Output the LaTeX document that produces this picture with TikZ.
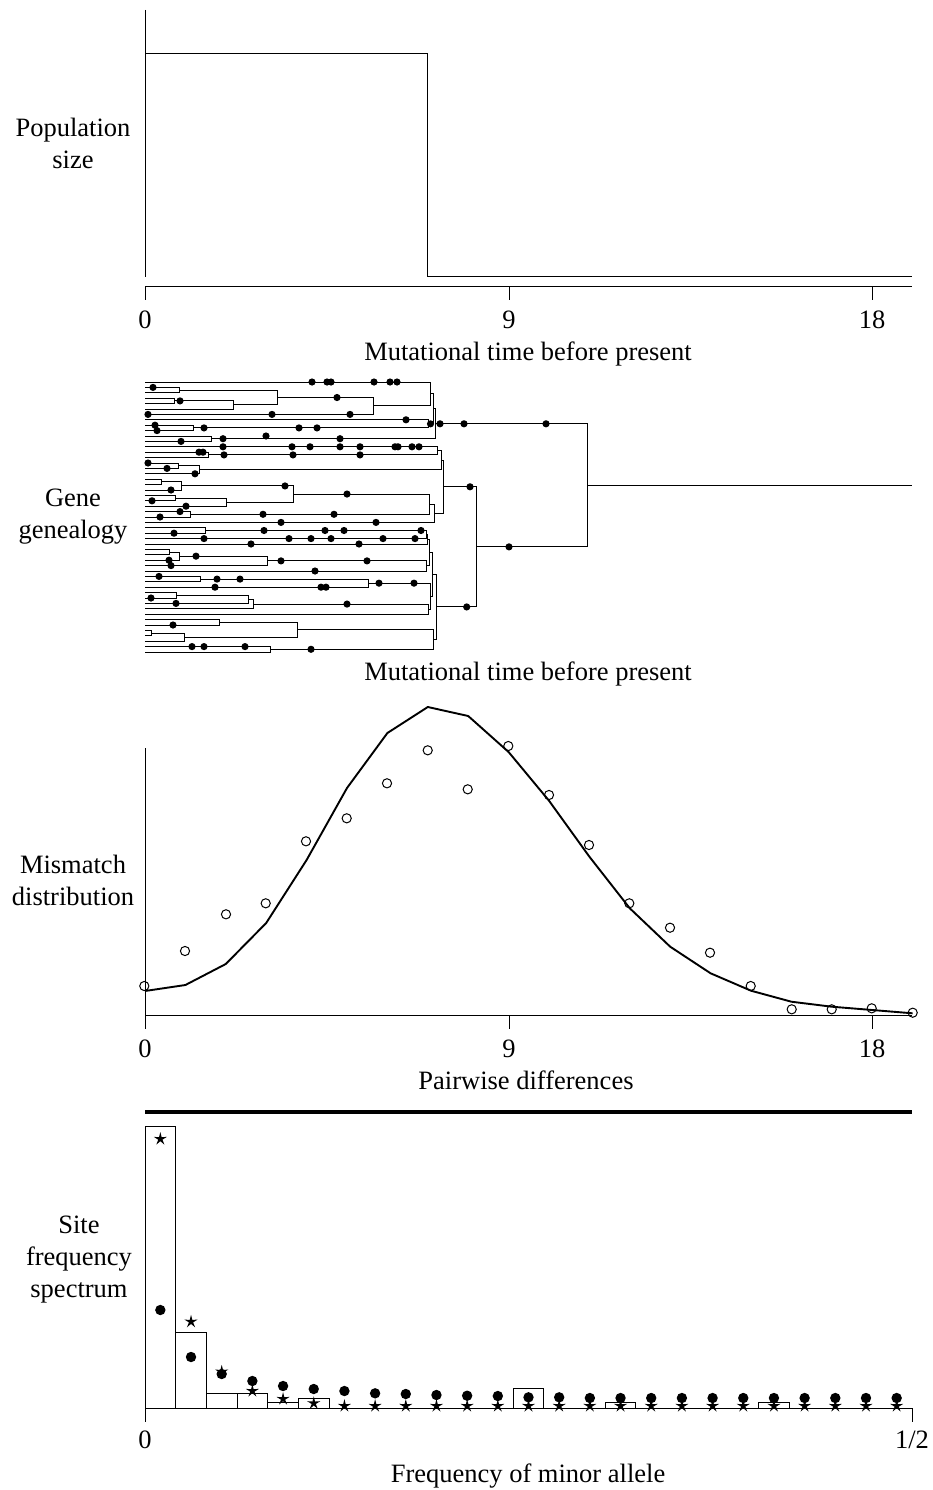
\documentclass[tikz,border=0pt]{standalone}
\usepackage{fontspec}
\setmainfont{Liberation Serif}
\usetikzlibrary{calc}
\newcommand\tjoin[4]{%
  \draw[tree] (#2) -- (#2 -| #4,0) -- (#3 -| #4,0) -- (#3);
  \coordinate (#1) at ($(#2 -| #4,0)!0.5!(#3 -| #4,0)$);
}
\newcommand\mut[2]{\fill (#1 -| #2,0) circle (3.6);}
\newcommand\sstar[2]{\fill[shift={(#1,#2)}] (-90:6.9) \foreach \a in {1,...,9}{ -- ({-90+36*\a}:{ifthenelse(isodd(\a),2.2,6.9)}) } -- cycle;}
\begin{document}
\begin{tikzpicture}[x=1pt,y=-1pt,
  ln/.style={line width=1pt},
  tree/.style={line width=1pt},
  lbl/.style={font=\fontsize{26.5}{32}\selectfont, inner sep=0pt, anchor=base},
  curve/.style={line width=1.9pt, line join=round},
  opendot/.style={line width=1pt}]
\useasboundingbox (0,0) rectangle (932,1490);

% ---------------- Panel 1: population size
\draw[ln] (145,10) -- (145,277);
\draw[ln] (145,54) -- (427,54) -- (427,276) -- (912,276);
\draw[ln] (145,286) -- (912,286);
\foreach \x in {145,509,872} {\draw[ln] (\x,286) -- (\x,300);}
\node[lbl] (pop1) at (73,137) {Population};
\node[lbl] (pop2) at (73,168.5) {size};
\node[lbl] (x10) at (145,328) {0};
\node[lbl] (x19) at (509,328) {9};
\node[lbl] (x118) at (872,328) {18};
\node[lbl] (xl1) at (528,360) {Mutational time before present};

% ---------------- Panel 2: gene genealogy
\foreach \i in {0,...,50} {\coordinate (L\i) at (145,{382+5.4*\i});}
% clade A
\tjoin{n12}{L1}{L2}{179}
\tjoin{n34}{L3}{L4}{174}
\tjoin{n345}{n34}{L5}{233}
\tjoin{nA1}{n12}{n345}{277}
\tjoin{nA2}{nA1}{L6}{373}
\tjoin{nA3}{L0}{nA2}{430}
\tjoin{n89}{L8}{L9}{193}
\tjoin{nA4}{L7}{n89}{428}
\tjoin{nA5}{nA3}{nA4}{433}
\tjoin{n1011}{L10}{L11}{211}
\tjoin{nA}{nA5}{n1011}{435.7}
% clade B1
\tjoin{c1314}{L13}{L14}{208}
\tjoin{b1}{L12}{c1314}{437}
\tjoin{c1516}{L15}{L16}{178}
\tjoin{b2}{c1516}{L17}{199}
\tjoin{b3}{b1}{b2}{441}
\tjoin{c1819}{L18}{L19}{161}
\tjoin{b4}{c1819}{L20}{181}
\tjoin{c2122}{L21}{L22}{175}
\tjoin{b5}{c2122}{L23}{226}
\tjoin{b6}{b4}{b5}{293}
\tjoin{c2425}{L24}{L25}{190}
\tjoin{b7}{b6}{c2425}{429}
\tjoin{b8}{b7}{L26}{434}
\tjoin{nB1}{b3}{b8}{443.3}
% clade B2
\tjoin{c2728}{L27}{L28}{205}
\tjoin{d1}{c2728}{L29}{426}
\tjoin{d1b}{d1}{L30}{427}
\tjoin{c3132}{L31}{L32}{169}
\tjoin{d2}{c3132}{L33}{179}
\tjoin{d3}{d2}{L34}{267}
\tjoin{d4}{d3}{L35}{426}
\tjoin{dA}{d1b}{d4}{429}
\tjoin{c3637}{L36}{L37}{200}
\tjoin{d5}{c3637}{L38}{368}
\tjoin{c3940}{L39}{L40}{176}
\tjoin{d6}{c3940}{L41}{248}
\tjoin{d7}{d6}{L42}{253}
\tjoin{d8}{d7}{L43}{428}
\tjoin{dB}{d5}{d8}{430}
\tjoin{nB2a}{dA}{dB}{432}
\tjoin{c4445}{L44}{L45}{219}
\tjoin{c4647}{L46}{L47}{151}
\tjoin{e1}{c4647}{L48}{184}
\tjoin{e2}{c4445}{e1}{297}
\tjoin{e3}{L49}{L50}{270}
\tjoin{nB2b}{e2}{e3}{433.3}
\tjoin{nB2}{nB2a}{nB2b}{436}
\tjoin{nB}{nB1}{nB2}{476.7}
\tjoin{root}{nA}{nB}{587}
\coordinate (rootend) at (root -| 912,0);
\draw[tree] (root) -- (rootend);
% mutations
\foreach \x in {312,327,331,374,390,397} {\mut{L0}{\x}}
\mut{L1}{153}
\mut{n34}{180}
\foreach \x in {148,272,350} {\mut{L6}{\x}}
\mut{nA1}{337}
\mut{L7}{406}
\mut{L8}{155}
\mut{L9}{157}
\foreach \x in {204,299,317} {\mut{n89}{\x}}
\mut{L10}{266}
\mut{L11}{181}
\foreach \x in {223,340} {\mut{n1011}{\x}}
\mut{nA4}{430.5}
\foreach \x in {440,464,546} {\mut{nA}{\x}}
\foreach \x in {223,292,310,340,360,395,398,412,419} {\mut{L12}{\x}}
\foreach \x in {199,203} {\mut{L13}{\x}}
\foreach \x in {224,293,360} {\mut{c1314}{\x}}
\mut{L15}{148}
\mut{L16}{167}
\mut{L17}{195}
\mut{L20}{171}
\mut{b4}{285}
\mut{b6}{347}
\mut{L22}{152}
\mut{L23}{186}
\mut{L24}{180}
\mut{L25}{160}
\foreach \x in {263,334} {\mut{c2425}{\x}}
\foreach \x in {281,376} {\mut{L26}{\x}}
\mut{nB1}{470}
\mut{L28}{174}
\foreach \x in {264,325,344,421} {\mut{c2728}{\x}}
\foreach \x in {204,289,311,331,383,415} {\mut{L29}{\x}}
\foreach \x in {251,359} {\mut{L30}{\x}}
\mut{d2}{196}
\mut{L33}{169}
\mut{L34}{171}
\foreach \x in {281,367} {\mut{d3}{\x}}
\mut{L35}{315}
\mut{L36}{159}
\foreach \x in {217,240} {\mut{c3637}{\x}}
\foreach \x in {215,321,326} {\mut{L38}{\x}}
\foreach \x in {379,414} {\mut{d5}{\x}}
\mut{L40}{151}
\mut{L41}{176}
\mut{d7}{347}
\mut{L45}{173}
\foreach \x in {192,204,245} {\mut{L49}{\x}}
\mut{e3}{311}
\mut{nB2}{466.7}
\mut{nB}{509}
\node[lbl] (gen1) at (73,506) {Gene};
\node[lbl] (gen2) at (73,538) {genealogy};
\node[lbl] (xl2) at (528,680) {Mutational time before present};

% ---------------- Panel 3: mismatch distribution
\draw[ln] (145,748) -- (145,1029);
\draw[ln] (145,1015) -- (912,1015);
\foreach \x in {509,872} {\draw[ln] (\x,1015) -- (\x,1029);}
\draw[curve] plot coordinates {(145,991) (185.4,985) (225.8,964) (266.2,923) (306.6,860) (347,788) (387.4,733) (427.8,707) (468.2,716) (508.6,752) (549,800.7) (589.4,856.7) (629.8,908.3) (670.2,946.7) (710.6,973.3) (751,990.7) (791.4,1001.7) (831.8,1006.7) (872.2,1010) (912.6,1013.3)};
\foreach \x/\y in {144.3/986,185/951,226/914.3,265.7/903.3,306/841.3,346.7/818.3,387/783.3,427.7/750.3,467.7/789.3,508.3/746,549/795,589/845,629.3/903.3,670/927.7,710/952.7,750.7/986,791.7/1009.3,831.7/1009.3,871.7/1008.3,912.7/1012.7}
  {\draw[opendot] (\x,\y) circle (4.6);}
\node[lbl] (mm1) at (73,873) {Mismatch};
\node[lbl] (mm2) at (73,905) {distribution};
\node[lbl] (x30) at (145,1057) {0};
\node[lbl] (x39) at (509,1057) {9};
\node[lbl] (x318) at (872,1057) {18};
\node[lbl] (xl3) at (526,1089) {Pairwise differences};

% ---------------- Panel 4: site frequency spectrum
\draw[line width=4pt] (145,1112) -- (912,1112);
\foreach \i/\t in {0/1126,1/1332,2/1393,3/1393,4/1402.7,5/1398.3,12/1388.3,15/1402.3,20/1402.3}
  {\draw[ln] ({145+30.68*\i},1408) rectangle ({145+30.68*(\i+1)},\t);}
\draw[ln] (145,1126) -- (145,1422);
\draw[ln] (145,1408) -- (912,1408) -- (912,1422);
\foreach \i/\s in {0/1139,1/1321.7,2/1371.7,3/1391,4/1399,5/1403.3,6/1406,7/1406,8/1406,9/1406,10/1406,11/1406,12/1406,13/1406,14/1406,15/1406,16/1406,17/1406,18/1406,19/1406,20/1406,21/1406,22/1406,23/1406,24/1406}
  {\sstar{{145+30.68*(\i+0.5)}}{\s}}
\foreach \i/\d in {0/1310,1/1357,2/1374,3/1381,4/1386,5/1389,6/1391,7/1393.3,8/1394,9/1395,10/1395.7,11/1396,12/1397.3,13/1397.3,14/1398,15/1398,16/1398,17/1398,18/1398,19/1398,20/1398,21/1398,22/1398,23/1398,24/1398}
  {\fill ({145+30.68*(\i+0.5)},\d) circle (5.2);}
\node[lbl] (sf1) at (79,1233) {Site};
\node[lbl] (sf2) at (79,1265) {frequency};
\node[lbl] (sf3) at (79,1297) {spectrum};
\node[lbl] (x40) at (145,1448) {0};
\node[lbl] (x4h) at (912,1448) {1/2};
\node[lbl] (xl4) at (528,1482) {Frequency of minor allele};
\end{tikzpicture}
\end{document}
